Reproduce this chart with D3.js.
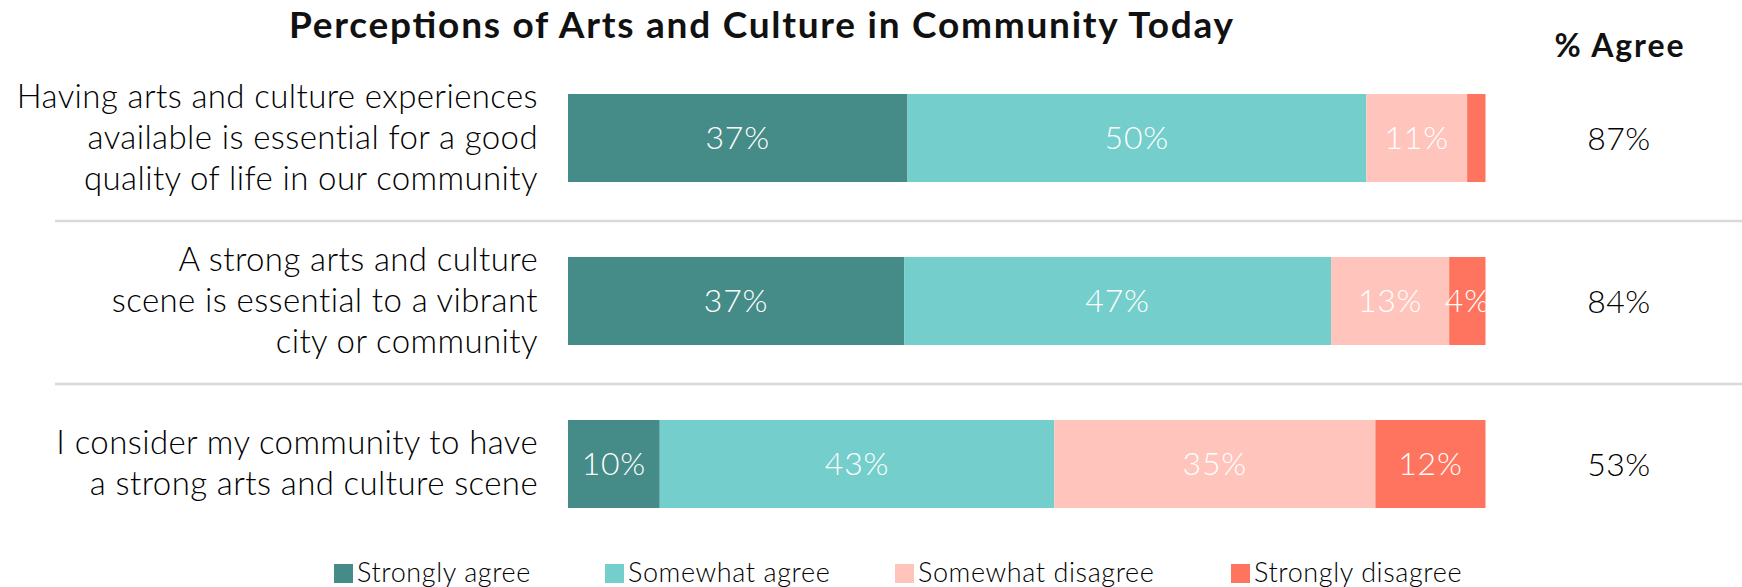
<!DOCTYPE html>
<html>
<head>
<meta charset="utf-8">
<script src="https://cdn.jsdelivr.net/npm/d3@7"></script>
<style>
  html, body { margin: 0; padding: 0; background: #fff; }
  svg { display: block; }
  text { font-family: Lato, "Open Sans", sans-serif; }
</style>
</head>
<body>
<svg id="chart" width="1742" height="587"></svg>
<script>
// Survey statements (each entry is one wrapped label, one line per string)
const statements = [
  ["Having arts and culture experiences", "available is essential for a good", "quality of life in our community"],
  ["A strong arts and culture", "scene is essential to a vibrant", "city or community"],
  ["I consider my community to have", "a strong arts and culture scene"]
];
const responseKeys = ["Strongly agree", "Somewhat agree", "Somewhat disagree", "Strongly disagree"];
const stronglyAgree    = [37, 37, 10];
const somewhatAgree    = [50, 47, 43];
const somewhatDisagree = [11, 13, 35];
const stronglyDisagree = [2, 4, 12];
const colors = ["#458b87", "#74cecb", "#ffc4bc", "#ff745e"];

const rows = statements.map((s, i) => ({
  id: "s" + i,
  lines: s,
  "Strongly agree": stronglyAgree[i],
  "Somewhat agree": somewhatAgree[i],
  "Somewhat disagree": somewhatDisagree[i],
  "Strongly disagree": stronglyDisagree[i]
}));

const svg = d3.select("#chart");
const W = 1742;

const x = d3.scaleLinear().domain([0, 1]).range([568, 1485.5]);
const y = d3.scaleBand().domain(rows.map(r => r.id)).range([94, 508]).paddingInner(0.46).paddingOuter(0);
const color = d3.scaleOrdinal().domain(responseKeys).range(colors);

const series = d3.stack().keys(responseKeys).offset(d3.stackOffsetExpand)(rows);

// Title
svg.append("text")
  .attr("x", 761).attr("y", 38)
  .attr("text-anchor", "middle")
  .attr("font-size", 37).attr("font-weight", 700).attr("fill", "#111")
  .attr("textLength", 944).attr("lengthAdjust", "spacing")
  .text("Perceptions of Arts and Culture in Community Today");

svg.append("text")
  .attr("x", 1619).attr("y", 57)
  .attr("text-anchor", "middle")
  .attr("font-size", 32).attr("font-weight", 700).attr("fill", "#111")
  .attr("textLength", 129).attr("lengthAdjust", "spacing")
  .text("% Agree");

// Row separators
const seps = rows.slice(0, -1).map(r => y(r.id) + y.bandwidth() + 39);
svg.append("g").selectAll("line").data(seps).join("line")
  .attr("x1", 55).attr("x2", W)
  .attr("y1", d => d).attr("y2", d => d)
  .attr("stroke", "#d9d9d9").attr("stroke-width", 2.5);

// Stacked bars
const clip = svg.append("defs").append("clipPath").attr("id", "barclip");
clip.append("rect").attr("x", x(0)).attr("y", 0).attr("width", x(1) - x(0)).attr("height", 587);

const layer = svg.append("g").selectAll("g").data(series).join("g")
  .attr("fill", d => color(d.key));
layer.selectAll("rect").data(d => d).join("rect")
  .attr("x", d => x(d[0]))
  .attr("y", d => y(d.data.id))
  .attr("width", d => x(d[1]) - x(d[0]))
  .attr("height", y.bandwidth());

// Segment value labels
const labelG = svg.append("g").attr("clip-path", "url(#barclip)");
series.forEach(s => {
  s.forEach(d => {
    const v = d.data[s.key];
    if (v < 3) return;
    labelG.append("text")
      .attr("x", (x(d[0]) + x(d[1])) / 2)
      .attr("y", y(d.data.id) + y.bandwidth() / 2 + 11)
      .attr("text-anchor", "middle")
      .attr("font-size", 32).attr("font-weight", 300).attr("fill", "#fff")
      .attr("letter-spacing", 0.8)
      .text(v + "%");
  });
});

// Statement labels
const lineH = 41;
rows.forEach(r => {
  const cy = y(r.id) + y.bandwidth() / 2;
  const n = r.lines.length;
  const t = svg.append("text")
    .attr("text-anchor", "end")
    .attr("font-size", 33).attr("font-weight", 300).attr("fill", "#000")
    .attr("letter-spacing", 0.4);
  r.lines.forEach((ln, i) => {
    t.append("tspan")
      .attr("x", 538)
      .attr("y", cy + (i - (n - 1) / 2) * lineH + 11)
      .text(ln);
  });
});

// % Agree column
svg.append("g").selectAll("text").data(rows).join("text")
  .attr("x", 1619)
  .attr("y", d => y(d.id) + y.bandwidth() / 2 + 12)
  .attr("text-anchor", "middle")
  .attr("font-size", 32).attr("font-weight", 300).attr("fill", "#000")
  .attr("letter-spacing", 0.5)
  .text(d => (d["Strongly agree"] + d["Somewhat agree"]) + "%");

// Legend
const legendX = [334, 605, 895, 1231];
const lg = svg.append("g").selectAll("g").data(responseKeys).join("g")
  .attr("transform", (d, i) => `translate(${legendX[i]},0)`);
lg.append("rect")
  .attr("x", 0).attr("y", 564).attr("width", 19).attr("height", 19)
  .attr("fill", d => color(d));
lg.append("text")
  .attr("x", 23).attr("y", 582)
  .attr("font-size", 27).attr("font-weight", 300).attr("fill", "#000")
  .attr("letter-spacing", 0.6)
  .text(d => d);
</script>
</body>
</html>
